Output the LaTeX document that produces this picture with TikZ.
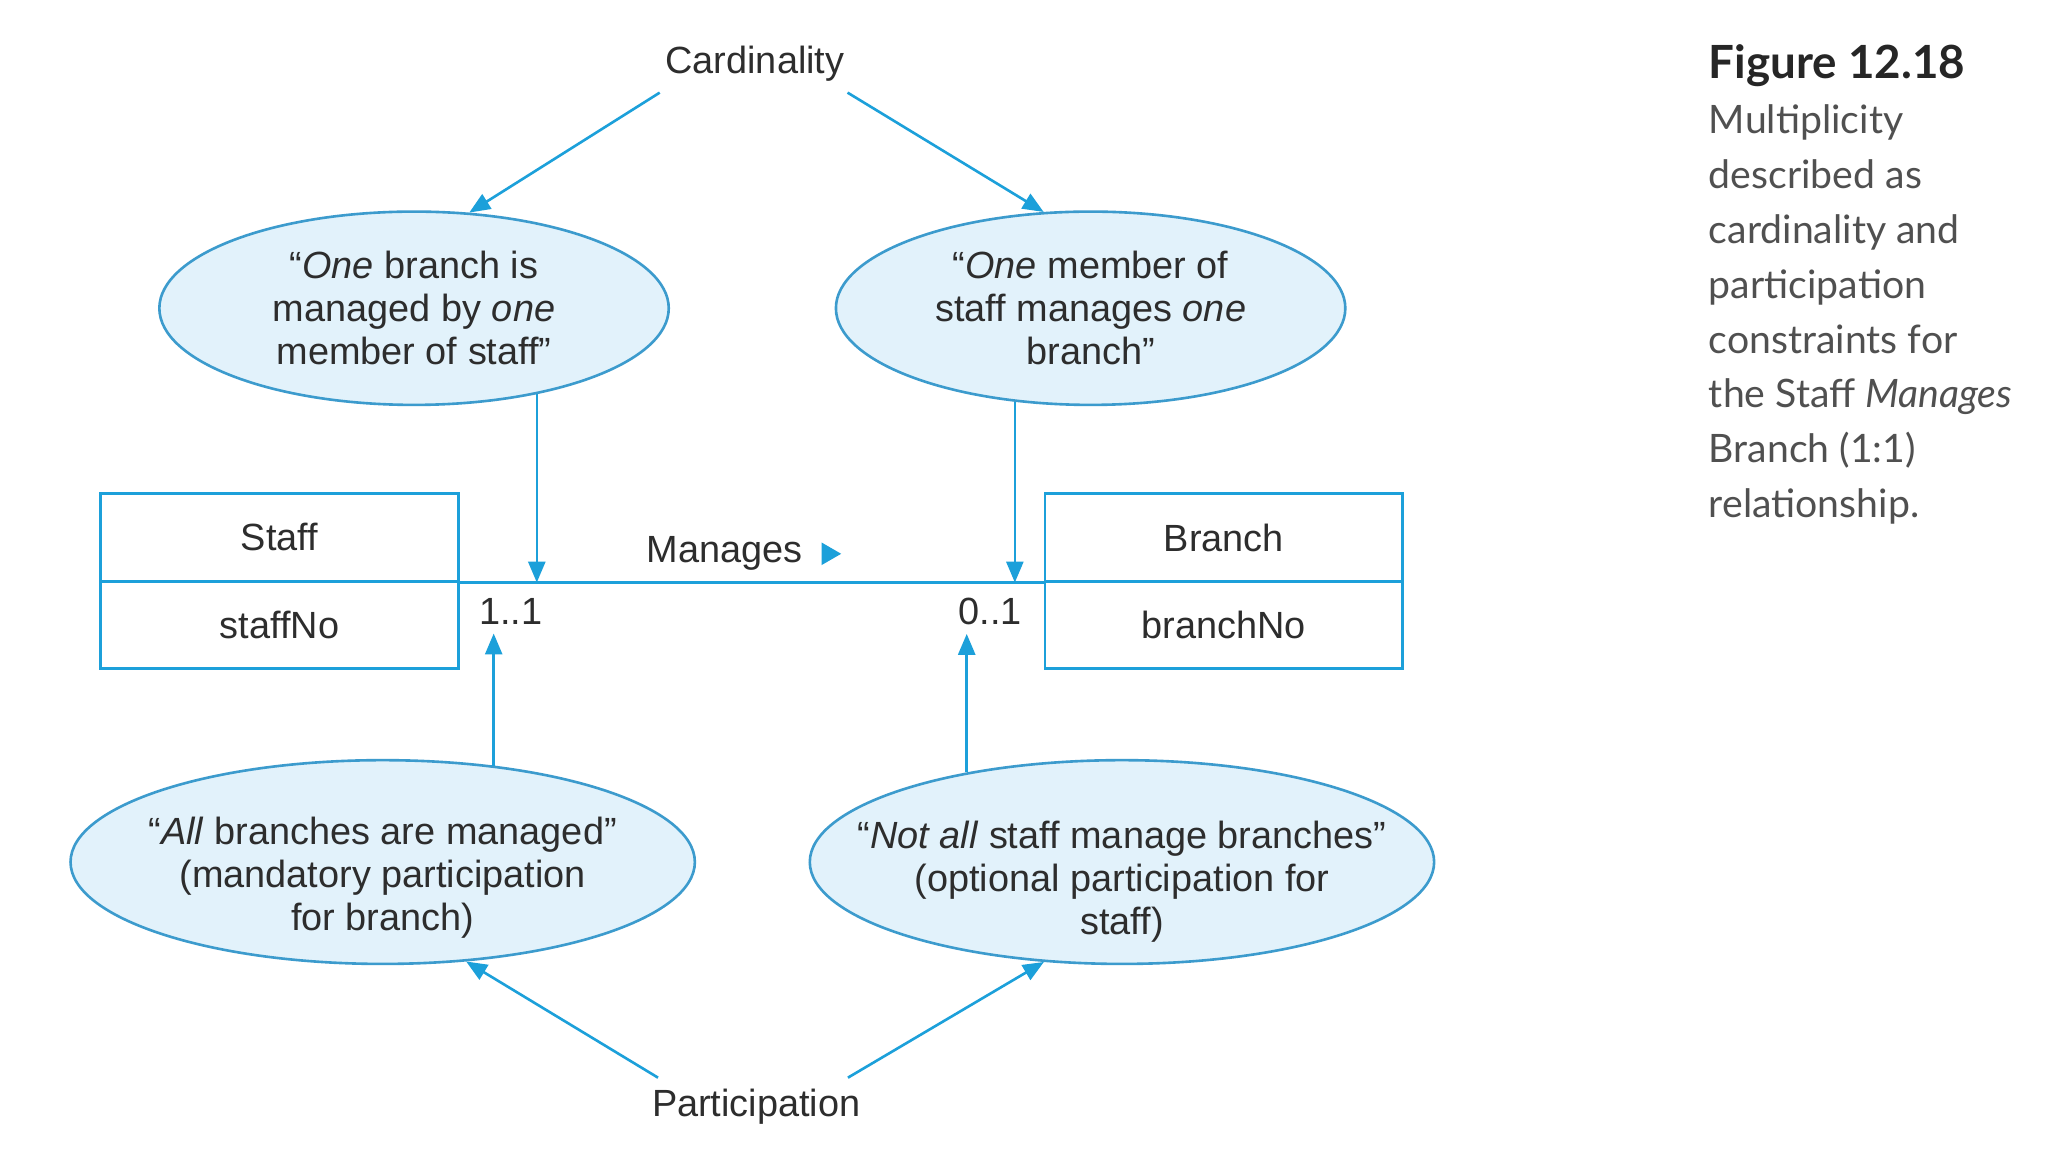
\documentclass[tikz,border=0pt]{standalone}
\usepackage{fontspec}
\setmainfont{Liberation Sans}
\newfontfamily\capfont{Lato}
\usetikzlibrary{shapes.geometric,arrows.meta}
\definecolor{lineblue}{RGB}{28,160,218}
\definecolor{ellfill}{RGB}{226,242,251}
\definecolor{ellline}{RGB}{60,155,205}
\definecolor{diagtext}{RGB}{45,45,45}
\definecolor{captext}{RGB}{80,80,80}
\begin{document}
\begin{tikzpicture}[x=0.5pt,y=-0.5pt,
  every node/.style={text=diagtext, font=\fontsize{14.5}{16.5}\selectfont},
  ell/.style={draw=ellline, fill=ellfill, line width=1pt, ellipse, inner sep=0pt},
  topell/.style={ell, minimum width=195pt, minimum height=74pt},
  botell/.style={ell, minimum width=239pt, minimum height=78pt},
  ltext/.style={align=center},
  box/.style={draw=lineblue, line width=1pt, minimum width=137pt, minimum height=33.5pt, inner sep=0pt},
  conn/.style={draw=lineblue, line width=1pt},
  arr/.style={draw=lineblue, line width=1pt, -{Triangle[length=8pt,width=6.5pt]}},
  tri/.style={regular polygon, regular polygon sides=3, shape border rotate=-90, fill=lineblue, inner sep=0pt, minimum size=10pt},
  word/.style={inner xsep=1pt, inner ysep=4pt}
]
\useasboundingbox (0,0) rectangle (1568,882);
\fill[white] (0,0) rectangle (1568,882);

\node[word] (card) at (578,49) {Cardinality};
\node[word] (part) at (579,847) {Participation};

\node[topell, label={[ltext]center:“\textit{One} branch is\\managed by \textit{one}\\member of staff”}] (e1) at (317,236) {};
\node[topell, label={[ltext]center:“\textit{One} member of\\staff manages \textit{one}\\branch”}] (e2) at (835,236) {};
\node[botell, label={[ltext, yshift=-6pt]center:“\textit{All} branches are managed”\\(mandatory participation\\for branch)}] (e3) at (293,660) {};
\node[botell, label={[ltext, yshift=-7.5pt]center:“\textit{Not all} staff manage branches”\\(optional participation for\\staff)}] (e4) at (859,660) {};

\node[box] (staffh) at (214,411.5) {Staff};
\node[box] (staffa) at (214,478.5) {staffNo};
\node[box] (branchh) at (937,411.5) {Branch};
\node[box] (brancha) at (937,478.5) {branchNo};

\draw[conn] (staffh.south east) -- (branchh.south west);
\node (man) at (555,424) {Manages};
\node[tri] (mantri) at (634,424) {};

\node (m1) at (391,468) {1..1};
\node (m2) at (758,468) {0..1};

\draw[arr] ([xshift=-1pt]card.south west) -- (e1.60);
\draw[arr] (card.south east) -- (e2.116);
\draw[arr] ([xshift=3.5pt]part.north west) -- (e3.-50);
\draw[arr] ([xshift=-6pt]part.north east) -- (e4.-128);

\draw[arr] (e1.-35) -- (e1.-35 |- staffh.south);
\draw[arr] (e2.-129) -- (e2.-129 |- branchh.south);
\draw[arr] (e3.41) -- (e3.41 |- m1.south);
\draw[arr] (e4.150) -- (e4.150 |- m2.south);

\node[anchor=north west, inner sep=0pt, align=left, text=captext, font=\capfont\fontsize{15}{21}\selectfont] (cap) at (1308,34)
 {{\color{black!85}\fontsize{17.5}{21}\selectfont\bfseries Figure 12.18}\\Multiplicity\\described as\\cardinality and\\participation\\constraints for\\the Staff \textit{Manages}\\Branch (1:1)\\relationship.};
\end{tikzpicture}
\end{document}
